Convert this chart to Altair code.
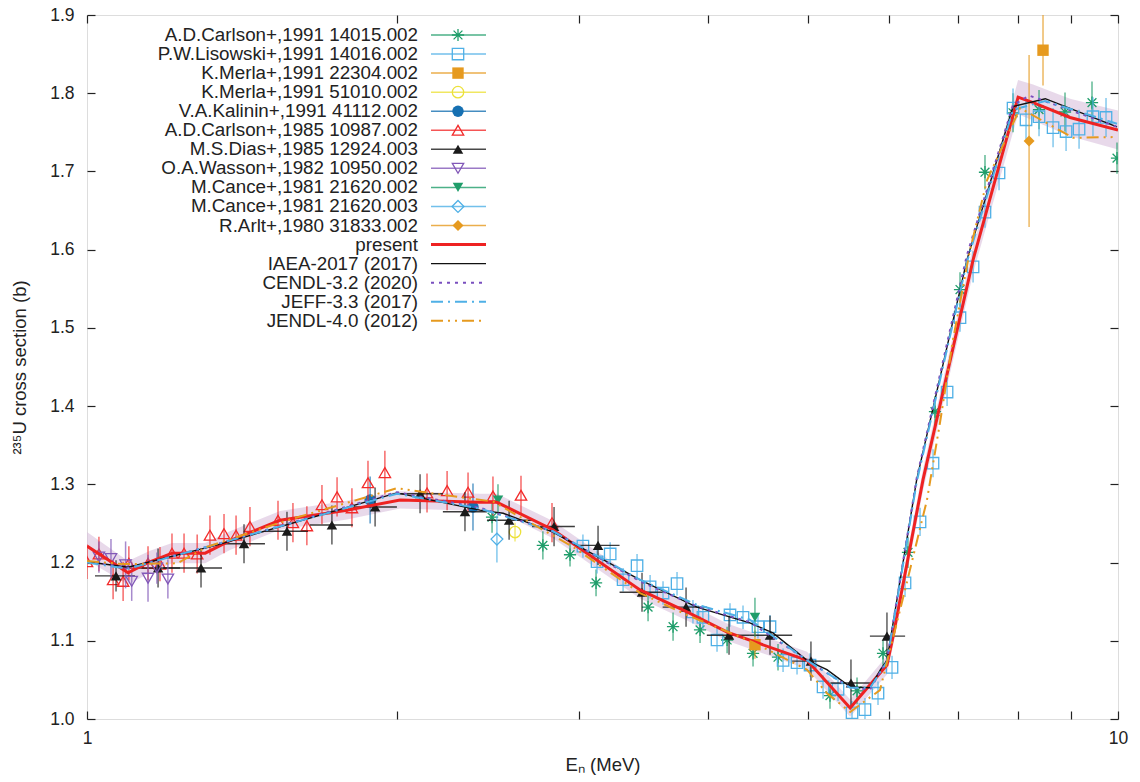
import altair as alt
import pandas as pd

PLOT_W, PLOT_H = 1031, 704
Y_MIN, Y_MAX = 1.0, 1.9
FONT = "Liberation Sans"

# ---------------- experimental data (E in MeV, sigma in b, err in b) ----------------
carl91_E = [2.471, 2.768, 2.941, 3.117, 3.501, 3.702, 3.932, 4.177, 4.426, 4.680, 5.256,
            5.583, 5.917, 6.256, 6.645, 7.027, 7.430, 7.910, 8.383, 8.884, 9.436, 9.978]
carl91_S = [1.258, 1.222, 1.210, 1.174, 1.143, 1.118, 1.114, 1.101, 1.084, 1.079, 1.030,
            1.036, 1.084, 1.213, 1.393, 1.549, 1.699, 1.775, 1.779, 1.776, 1.788, 1.717]
carl91_D = [0.020, 0.018, 0.015, 0.017, 0.018, 0.018, 0.017, 0.017, 0.017, 0.017, 0.017,
            0.017, 0.017, 0.020, 0.020, 0.022, 0.022, 0.025, 0.025, 0.025, 0.027, 0.020]

lis_E = [3.027, 3.124, 3.217, 3.311, 3.416, 3.517, 3.620, 3.735, 3.870, 3.957, 4.084, 4.204,
         4.328, 4.475, 4.597, 4.733, 4.883, 5.027, 5.175, 5.351, 5.521, 5.683, 5.851, 6.037,
         6.215, 6.427, 6.616, 6.827, 7.027, 7.235, 7.430, 7.667, 7.910, 8.143, 8.383, 8.650,
         8.905, 9.167, 9.456, 9.736]
lis_S = [1.221, 1.201, 1.211, 1.178, 1.196, 1.169, 1.161, 1.173, 1.137, 1.130, 1.101, 1.133,
         1.130, 1.118, 1.118, 1.075, 1.072, 1.069, 1.041, 1.038, 1.008, 1.012, 1.033, 1.066,
         1.174, 1.252, 1.327, 1.418, 1.513, 1.578, 1.648, 1.698, 1.781, 1.766, 1.770, 1.756,
         1.751, 1.754, 1.770, 1.769]
lis_D = [0.015, 0.015, 0.015, 0.015, 0.015, 0.015, 0.015, 0.015, 0.015, 0.015, 0.015, 0.015,
         0.015, 0.015, 0.015, 0.015, 0.015, 0.015, 0.015, 0.015, 0.015, 0.015, 0.015, 0.015,
         0.018, 0.018, 0.018, 0.018, 0.018, 0.020, 0.020, 0.022, 0.025, 0.025, 0.025, 0.025,
         0.025, 0.025, 0.025, 0.025]

merla1_E = [4.445, 8.458]
merla1_S = [1.095, 1.855]
merla1_D = [0.018, 0.045]

merla2_E = [2.601]
merla2_S = [1.239]
merla2_D = [0.012]

kal_E = [1.882, 2.368]
kal_S = [1.280, 1.271]
kal_D = [0.030, 0.030]

carl85_E = [1.000, 1.027, 1.060, 1.084, 1.098, 1.146, 1.177, 1.209, 1.242, 1.279, 1.316, 1.358,
            1.395, 1.439, 1.532, 1.584, 1.634, 1.690, 1.748, 1.807, 1.873, 1.945, 2.137, 2.235,
            2.342, 2.476, 2.636, 2.825]
carl85_S = [1.201, 1.211, 1.178, 1.176, 1.199, 1.199, 1.198, 1.212, 1.212, 1.211, 1.235, 1.237,
            1.235, 1.246, 1.254, 1.251, 1.247, 1.274, 1.284, 1.270, 1.302, 1.315, 1.289, 1.292,
            1.290, 1.285, 1.286, 1.251]
carl85_D = [0.022, 0.022, 0.025, 0.025, 0.022, 0.022, 0.022, 0.025, 0.025, 0.025, 0.025, 0.025,
            0.025, 0.025, 0.025, 0.025, 0.025, 0.025, 0.025, 0.025, 0.028, 0.028, 0.025, 0.025,
            0.025, 0.025, 0.025, 0.025]

dias_E = [1.067, 1.172, 1.290, 1.420, 1.563, 1.728, 1.903, 2.104, 2.326, 2.567, 2.838, 3.131,
          3.454, 3.811, 4.195, 4.597, 5.037, 5.508, 5.969]
dias_S = [1.183, 1.193, 1.193, 1.224, 1.240, 1.248, 1.271, 1.288, 1.265, 1.254, 1.246, 1.222,
          1.162, 1.143, 1.107, 1.107, 1.074, 1.046, 1.106]
dias_D = [0.020, 0.025, 0.025, 0.025, 0.025, 0.025, 0.025, 0.025, 0.025, 0.025, 0.025, 0.025,
          0.025, 0.025, 0.025, 0.025, 0.025, 0.030, 0.030]
dias_Elo = [1.018, 1.113, 1.185, 1.355, 1.488, 1.645, 1.811, 1.998, 2.214, 2.443, 2.702, 2.973,
            3.285, 3.617, 3.992, 4.395, 4.830, 5.264, 5.746]
dias_Ehi = [1.113, 1.231, 1.352, 1.488, 1.638, 1.811, 1.998, 2.214, 2.443, 2.702, 2.973, 3.285,
            3.617, 3.992, 4.395, 4.830, 5.264, 5.746, 6.216]

was_E = [1.027, 1.055, 1.090, 1.105, 1.146, 1.169, 1.198]
was_S = [1.207, 1.205, 1.197, 1.176, 1.180, 1.193, 1.179]
was_D = [0.020, 0.025, 0.030, 0.025, 0.030, 0.020, 0.025]

cance2_E = [2.504, 4.445]
cance2_S = [1.280, 1.130]
cance2_D = [0.020, 0.025]

cance3_E = [2.498]
cance3_S = [1.230]
cance3_D = [0.030]

arlt_E = [8.199]
arlt_S = [1.739]
arlt_D = [0.110]

# ---------------- evaluated curves ----------------
present_E = [1.000, 1.096, 1.151, 1.209, 1.302, 1.376, 1.539, 1.787, 2.012, 2.405, 2.498, 2.831,
             3.439, 3.819, 4.177, 4.993, 5.498, 5.969, 6.050, 6.470, 7.235, 8.000, 8.273, 8.984, 10.0]
present_S = [1.221, 1.187, 1.201, 1.212, 1.212, 1.228, 1.254, 1.267, 1.280, 1.277, 1.277, 1.242,
             1.165, 1.137, 1.111, 1.075, 1.014, 1.069, 1.105, 1.306, 1.587, 1.795, 1.788, 1.769, 1.753]
present_U = [0.018, 0.015, 0.014, 0.013, 0.013, 0.012, 0.012, 0.012, 0.011, 0.011, 0.011, 0.011,
             0.011, 0.011, 0.011, 0.011, 0.011, 0.012, 0.012, 0.014, 0.017, 0.022, 0.023, 0.024, 0.025]

iaea_E = [1.000, 1.096, 1.325, 1.998, 2.405, 2.533, 2.831, 3.439, 3.904, 4.394, 4.627, 4.993,
          5.220, 5.498, 5.749, 5.883, 5.969, 6.379, 7.136, 7.910, 8.501, 9.978]
iaea_S = [1.201, 1.194, 1.221, 1.289, 1.267, 1.263, 1.239, 1.178, 1.143, 1.123, 1.110, 1.075,
          1.063, 1.041, 1.040, 1.063, 1.075, 1.306, 1.587, 1.783, 1.793, 1.757]

cendl_E = [1.000, 1.096, 1.325, 1.998, 2.405, 2.831, 3.439, 3.904, 4.394, 4.993, 5.498, 5.749,
           5.969, 6.379, 7.136, 7.910, 8.200, 9.978]
cendl_S = [1.202, 1.193, 1.222, 1.290, 1.270, 1.240, 1.176, 1.144, 1.124, 1.075, 1.040, 1.038,
           1.075, 1.308, 1.593, 1.785, 1.797, 1.757]

jeff_E = [1.000, 1.096, 1.998, 2.405, 2.831, 3.439, 3.904, 4.394, 4.993, 5.498, 5.749, 5.969,
          6.379, 7.136, 7.910, 8.501, 9.978]
jeff_S = [1.200, 1.192, 1.288, 1.269, 1.240, 1.178, 1.146, 1.127, 1.075, 1.040, 1.040, 1.073,
          1.303, 1.584, 1.779, 1.790, 1.761]

jendl_E = [1.000, 1.084, 1.223, 1.307, 1.563, 1.998, 2.315, 2.476, 2.961, 3.439, 3.819, 4.426,
           4.993, 5.220, 5.498, 5.877, 6.215, 6.527, 6.720, 6.918, 7.187, 7.465, 8.035, 9.044, 9.978]
jendl_S = [1.202, 1.198, 1.199, 1.220, 1.254, 1.295, 1.283, 1.278, 1.220, 1.161, 1.133, 1.098,
           1.063, 1.033, 1.009, 1.037, 1.165, 1.280, 1.379, 1.485, 1.600, 1.689, 1.781, 1.743, 1.744]

x_ticks = [1, 2, 3, 4, 5, 6, 7, 8, 9, 10]
y_ticks = [1.0, 1.1, 1.2, 1.3, 1.4, 1.5, 1.6, 1.7, 1.8, 1.9]

ASTERISK = "M-1,0L1,0M0,-1L0,1M-0.72,-0.72L0.72,0.72M-0.72,0.72L0.72,-0.72"

datasets = [
    dict(name="A.D.Carlson+,1991 14015.002", E=carl91_E, S=carl91_S, D=carl91_D,
         color="#1f9d6a", shape=ASTERISK, filled=False, size=150),
    dict(name="P.W.Lisowski+,1991 14016.002", E=lis_E, S=lis_S, D=lis_D,
         color="#4fb0e6", shape="square", filled=False, size=130),
    dict(name="K.Merla+,1991 22304.002", E=merla1_E, S=merla1_S, D=merla1_D,
         color="#e69a1f", shape="square", filled=True, size=130),
    dict(name="K.Merla+,1991 51010.002", E=merla2_E, S=merla2_S, D=merla2_D,
         color="#ece13a", shape="circle", filled=False, size=130),
    dict(name="V.A.Kalinin+,1991 41112.002", E=kal_E, S=kal_S, D=kal_D,
         color="#1670b2", shape="circle", filled=True, size=130),
    dict(name="A.D.Carlson+,1985 10987.002", E=carl85_E, S=carl85_S, D=carl85_D,
         color="#f22a2a", shape="triangle-up", filled=False, size=130),
    dict(name="M.S.Dias+,1985 12924.003", E=dias_E, S=dias_S, D=dias_D,
         color="#1a1a1a", shape="triangle-up", filled=True, size=110),
    dict(name="O.A.Wasson+,1982 10950.002", E=was_E, S=was_S, D=was_D,
         color="#8258b8", shape="triangle-down", filled=False, size=130),
    dict(name="M.Cance+,1981 21620.002", E=cance2_E, S=cance2_S, D=cance2_D,
         color="#1f9d6a", shape="triangle-down", filled=True, size=110),
    dict(name="M.Cance+,1981 21620.003", E=cance3_E, S=cance3_S, D=cance3_D,
         color="#4fb0e6", shape="diamond", filled=False, size=140),
    dict(name="R.Arlt+,1980 31833.002", E=arlt_E, S=arlt_S, D=arlt_D,
         color="#e69a1f", shape="diamond", filled=True, size=120),
]

curves = [
    dict(name="present", E=present_E, S=present_S, color="#ee2222", width=3.0, dash=None),
    dict(name="IAEA-2017 (2017)", E=iaea_E, S=iaea_S, color="#111111", width=1.4, dash=None),
    dict(name="CENDL-3.2 (2020)", E=cendl_E, S=cendl_S, color="#7a4fbf", width=2.0, dash=[3, 5]),
    dict(name="JEFF-3.3 (2017)", E=jeff_E, S=jeff_S, color="#4fb0e6", width=2.0, dash=[12, 5, 2, 5]),
    dict(name="JENDL-4.0 (2012)", E=jendl_E, S=jendl_S, color="#e69a1f", width=2.0,
         dash=[12, 5, 2, 5, 2, 5]),
]

# ---------------- scales / helpers ----------------
xs = alt.Scale(type="log", domain=[1, 10], nice=False)
ys = alt.Scale(domain=[Y_MIN, Y_MAX], nice=False, zero=False)


def X(f):
    return alt.X(f, type="quantitative", scale=xs, axis=None)


def Y(f):
    return alt.Y(f, type="quantitative", scale=ys, axis=None)


layers = []

# uncertainty band of present (carries bottom/left axes)
band_df = pd.DataFrame({"E": present_E,
                        "lo": [s - u for s, u in zip(present_S, present_U)],
                        "hi": [s + u for s, u in zip(present_S, present_U)]})
axis_common = dict(domain=False, grid=False, tickColor="#222222", tickWidth=1.2, tickSize=8,
                   offset=-8, labelFont=FONT, labelFontSize=17.5, labelColor="#222222",
                   labelFlush=False, labelOverlap=False,
                   titleFont=FONT, titleFontSize=18.5, titleFontWeight="normal", titleColor="#222222")
band = alt.Chart(band_df).mark_area(color="#d9bfdc", opacity=0.6, clip=True).encode(
    x=alt.X("E:Q", scale=xs, axis=alt.Axis(
        orient="bottom", values=x_ticks, title="Eₙ (MeV)", labelPadding=10, titlePadding=9,
        labelExpr="datum.value == 1 ? '1' : (datum.value == 10 ? '10' : '')", **axis_common)),
    y=alt.Y("lo:Q", scale=ys, axis=alt.Axis(
        orient="left", values=y_ticks, format=".1f", title="²³⁵U cross section (b)",
        labelPadding=13, titlePadding=20, **axis_common)),
    y2="hi:Q",
)
layers.append(band)

# mirror ticks top/right
mirror = alt.Chart(band_df).mark_point(opacity=0).encode(
    x=alt.X("E:Q", scale=xs, axis=alt.Axis(orient="top", values=x_ticks, labels=False,
                                             title=None, domain=False, grid=False,
                                             tickColor="#222222", tickWidth=1.2, tickSize=8,
                                             offset=-8)),
    y=alt.Y("lo:Q", scale=ys, axis=alt.Axis(orient="right", values=y_ticks, labels=False,
                                              title=None, domain=False, grid=False,
                                              tickColor="#222222", tickWidth=1.2, tickSize=8,
                                              offset=-8)),
)
layers.append(mirror)

# error bars and points, per dataset
for d in datasets:
    df = pd.DataFrame({"E": d["E"], "s": d["S"],
                       "lo": [s - e for s, e in zip(d["S"], d["D"])],
                       "hi": [s + e for s, e in zip(d["S"], d["D"])]})
    layers.append(alt.Chart(df).mark_rule(color=d["color"], strokeWidth=1.5, opacity=0.7,
                                          clip=True).encode(x=X("E"), y=Y("lo"), y2="hi"))
    if d["name"].startswith("M.S.Dias"):
        hdf = pd.DataFrame({"lo": dias_Elo, "hi": dias_Ehi, "s": dias_S})
        layers.append(alt.Chart(hdf).mark_rule(color=d["color"], strokeWidth=1.4, opacity=0.85,
                                               clip=True).encode(x=X("lo"), x2="hi", y=Y("s")))
    layers.append(alt.Chart(df).mark_point(shape=d["shape"], filled=d["filled"], size=d["size"],
                                           color=d["color"], opacity=1, strokeWidth=1.3,
                                           clip=True).encode(x=X("E"), y=Y("s")))

# evaluated curves
for c in curves:
    df = pd.DataFrame({"E": c["E"], "s": c["S"]})
    kw = dict(color=c["color"], strokeWidth=c["width"], clip=True)
    if c["dash"]:
        kw["strokeDash"] = c["dash"]
    layers.append(alt.Chart(df).mark_line(**kw).encode(x=X("E"), y=Y("s")))

# ---------------- legend (gnuplot style, inside top-left) ----------------
LEG_TOP, LEG_STEP = 20, 19.05          # pixels from plot top
TEXT_X, LINE_X0, LINE_X1, SYM_X = 331, 344, 399, 371


def row_sigma(i):
    return Y_MAX - (LEG_TOP + LEG_STEP * i) * (Y_MAX - Y_MIN) / PLOT_H


names = [d["name"] for d in datasets] + [c["name"] for c in curves]
leg_df = pd.DataFrame({"name": names, "s": [row_sigma(i) for i in range(len(names))]})
layers.append(alt.Chart(leg_df).mark_text(align="right", baseline="middle", font=FONT,
                                          fontSize=18.8, color="#222222").encode(
    x=alt.value(TEXT_X), y=Y("s"), text="name:N"))

for i, d in enumerate(datasets):
    one = pd.DataFrame({"s": [row_sigma(i)]})
    layers.append(alt.Chart(one).mark_rule(color=d["color"], strokeWidth=1.5, opacity=0.8).encode(
        x=alt.value(LINE_X0), x2=alt.value(LINE_X1), y=Y("s")))
    layers.append(alt.Chart(one).mark_point(shape=d["shape"], filled=d["filled"], size=d["size"],
                                            color=d["color"], opacity=1, strokeWidth=1.3).encode(
        x=alt.value(SYM_X), y=Y("s")))

for j, c in enumerate(curves):
    one = pd.DataFrame({"s": [row_sigma(len(datasets) + j)]})
    kw = dict(color=c["color"], strokeWidth=c["width"])
    if c["dash"]:
        kw["strokeDash"] = c["dash"]
    layers.append(alt.Chart(one).mark_rule(**kw).encode(
        x=alt.value(LINE_X0), x2=alt.value(LINE_X1), y=Y("s")))

chart = alt.layer(*layers).resolve_axis(x="independent", y="independent").properties(
    width=PLOT_W, height=PLOT_H,
    autosize=alt.AutoSizeParams(type="none"),
    padding={"left": 87, "top": 15, "right": 22, "bottom": 63},
).configure_view(stroke="#222222", strokeWidth=2).configure(background="white")

chart.save("out.html", embed_options={"renderer": "svg", "actions": False})
